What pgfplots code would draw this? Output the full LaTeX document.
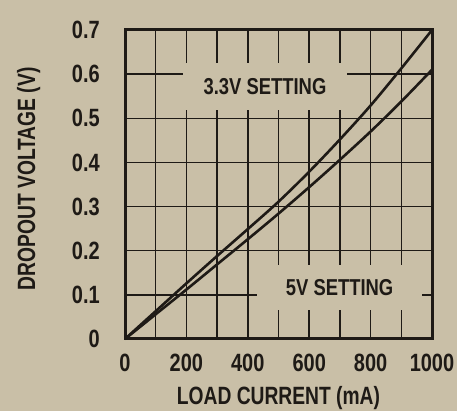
\documentclass[border=0pt]{standalone}
\usepackage{fontspec}
\setmainfont{Liberation Sans}[FakeStretch=0.8]
\newfontfamily\labelfont{Liberation Sans}[FakeStretch=0.77]
\usepackage{pgfplots}
\pgfplotsset{compat=1.18}
\definecolor{paper}{RGB}{201,191,167}
\definecolor{ink}{RGB}{30,26,22}
\begin{document}
\begin{tikzpicture}[x=1pt,y=1pt]
\fill[paper] (0,0) rectangle (457,411);
\useasboundingbox (0,0) rectangle (457,411);
\begin{axis}[
  at={(125pt,72pt)}, anchor=south west,
  scale only axis, width=307pt, height=309pt,
  xmin=0, xmax=1000, ymin=0, ymax=0.7,
  xtick={0,200,400,600,800,1000},
  minor xtick={100,300,500,700,900},
  ytick={0,0.1,0.2,0.3,0.4,0.5,0.6,0.7},
  yticklabels={0,0.1,0.2,0.3,0.4,0.5,0.6,0.7},
  xticklabels={0,200,400,600,800,1000},
  grid=both,
  major grid style={draw=ink, line width=1.5pt},
  minor grid style={draw=ink, line width=1.5pt},
  axis line style={draw=ink, line width=3pt},
  major tick length=0pt, minor tick length=0pt,
  /pgf/number format/assume math mode=true,
  every tick label/.append style={font=\bfseries\fontsize{25}{25}\selectfont, text=ink},
  xticklabel style={anchor=base, yshift=-33pt},
  yticklabel style={anchor=east, inner sep=0pt, xshift=-25pt},
  xlabel={LOAD CURRENT (mA)},
  ylabel={DROPOUT VOLTAGE (V)},
  every axis x label/.style={at={(axis description cs:0.5,-0.212)}, anchor=base, font=\labelfont\bfseries\fontsize{25}{25}\selectfont, text=ink},
  every axis y label/.style={at={(axis description cs:-0.314,0.518)}, rotate=90, anchor=center, font=\labelfont\bfseries\fontsize{25}{25}\selectfont, text=ink},
  clip=false,
]
\node[fill=paper, minimum width=164pt, minimum height=47pt, inner sep=0pt, text=ink,
  font=\bfseries\fontsize{23}{23}\selectfont] at (axis cs:456,0.572) {3.3V SETTING};
\node[fill=paper, minimum width=165pt, minimum height=45pt, inner sep=0pt, text=ink,
  font=\bfseries\fontsize{23}{23}\selectfont] at (axis cs:699,0.117) {5V SETTING};
% 3.3V setting (upper)
\addplot[draw=ink, line width=2.6pt, smooth] coordinates {
 (0,0) (100,0.063) (200,0.126) (300,0.188) (400,0.249) (500,0.311)
 (600,0.379) (700,0.452) (800,0.529) (900,0.613) (1000,0.700)};
% 5V setting (lower)
\addplot[draw=ink, line width=2.6pt, smooth] coordinates {
 (0,0) (100,0.056) (200,0.112) (300,0.169) (400,0.226) (500,0.284)
 (600,0.344) (700,0.406) (800,0.470) (900,0.538) (1000,0.610)};
\end{axis}
\end{tikzpicture}
\end{document}
